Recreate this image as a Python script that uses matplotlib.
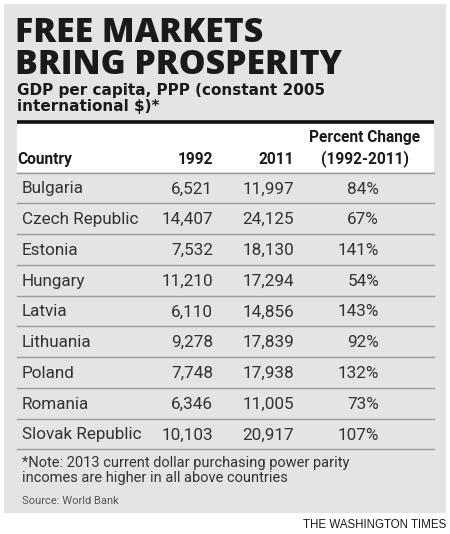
import matplotlib
matplotlib.use("Agg")
import matplotlib.pyplot as plt
from matplotlib.patches import Rectangle

title_lines = ["FREE MARKETS", "BRING PROSPERITY"]
subtitle_lines = ["GDP per capita, PPP (constant 2005", "international $)*"]
col_headers = ["Country", "1992", "2011", "Percent Change\n(1992-2011)"]
countries = ["Bulgaria", "Czech Republic", "Estonia", "Hungary", "Latvia",
             "Lithuania", "Poland", "Romania", "Slovak Republic"]
gdp_1992 = [6521, 14407, 7532, 11210, 6110, 9278, 7748, 6346, 10103]
gdp_2011 = [11997, 24125, 18130, 17294, 14856, 17839, 17938, 11005, 20917]
pct_change = [84, 67, 141, 54, 143, 92, 132, 73, 107]
note_lines = ["*Note: 2013 current dollar purchasing power parity",
              "incomes are higher in all above countries"]
source = "Source: World Bank"
credit = "THE WASHINGTON TIMES"

W, H = 450, 534
panel = "#e3e4e6"
ink = "#1a1a1a"
body = "#333333"

wide = ["Open Sans", "DejaVu Sans"]
cond = ["Roboto", "DejaVu Sans"]
plain = ["Liberation Sans", "DejaVu Sans"]

fig = plt.figure(figsize=(W / 100, H / 100), dpi=100)
ax = fig.add_axes([0, 0, 1, 1])
ax.set_xlim(0, W)
ax.set_ylim(H, 0)
ax.axis("off")

# gray panel and white header strip
ax.add_patch(Rectangle((4, 4), 442, 509, color=panel, lw=0))
ax.add_patch(Rectangle((17, 123), 417, 49, color="white", lw=0))
ax.plot([17, 434], [121.5, 121.5], color="#111111", lw=2.6, solid_capstyle="butt")
ax.plot([17, 434], [172.5, 172.5], color="#9a9a9a", lw=1.0)

# title (one text block, baseline = last line)
ax.text(15, 73.5, "\n".join(title_lines), family=wide, fontweight="heavy",
        fontsize=24.3, color=ink, va="baseline", linespacing=0.89)
for i, line in enumerate(subtitle_lines):
    ax.text(17, 94.5 + i * 16.5, line, family="DejaVu Sans", fontweight="bold",
            fontsize=11, color=ink, va="baseline")

# column headers
x_country, x_1992, x_2011, x_pct = 22, 213, 294, 379
hkw = dict(family=cond, fontweight="bold", fontsize=11.2, color=ink,
           va="baseline")
ax.text(17, 164, col_headers[0], **hkw)
ax.text(x_1992, 164, col_headers[1], ha="right", **hkw)
ax.text(x_2011, 164, col_headers[2], ha="right", **hkw)
top, bottom = col_headers[3].split("\n")
ax.text(365, 142, top, ha="center", **hkw)
ax.text(365, 163.5, bottom, ha="center", **hkw)

# rows
pitch = 30.75
for i, name in enumerate(countries):
    base = 193.5 + i * pitch
    kw = dict(family=cond, fontsize=12.3, color=body, va="baseline")
    ax.text(x_country, base, name, **kw)
    ax.text(x_1992, base, f"{gdp_1992[i]:,}", ha="right", **kw)
    ax.text(x_2011, base, f"{gdp_2011[i]:,}", ha="right", **kw)
    ax.text(x_pct, base, f"{pct_change[i]}%", ha="right", **kw)
    ax.plot([17, 434], [203.3 + i * pitch] * 2, color="#9a9a9a", lw=1.0)

# notes
for i, line in enumerate(note_lines):
    ax.text(22, 467 + i * 15, line, family=cond, fontsize=10.5,
            color=body, va="baseline")
ax.text(22, 503.5, source, family=cond, fontsize=8, color="#555555",
        va="baseline")
ax.text(446, 528, credit, family=plain, fontsize=8.3, color=ink,
        va="baseline", ha="right")

fig.savefig("out.png", dpi=100, facecolor="white")
